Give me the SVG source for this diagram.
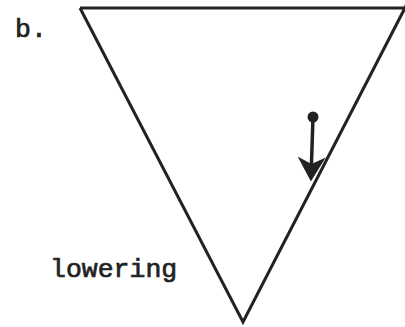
<svg xmlns="http://www.w3.org/2000/svg" width="405" height="327" viewBox="0 0 405 327">
<style>
.ln{fill:none;stroke:#222;stroke-width:3;stroke-linejoin:miter}
.t{font-family:"Liberation Mono","Courier New",monospace;font-size:26.5px;fill:#222;stroke:#222;stroke-width:0.7}
</style>
<defs>
<marker id="ah" markerWidth="8" markerHeight="8" refX="6" refY="4" orient="auto" markerUnits="strokeWidth">
<path d="M0,0 L7,4 L0,8 L2,4 Z" fill="#222"/>
</marker>
</defs>
<rect width="405" height="327" fill="#fff"/>
<g id="triangle">
<path class="ln" d="M80,8 L407,8 M80,8 L243,322 L407,4"/>
</g>
<g id="connectors">
<circle cx="313" cy="117" r="5.5" fill="#222"/>
<line x1="313" y1="117" x2="311" y2="178" stroke="#222" stroke-width="3.5" marker-end="url(#ah)"/>
</g>
<text class="t" x="15" y="37">b.</text>
<text class="t" x="50" y="277">lowering</text>
</svg>
